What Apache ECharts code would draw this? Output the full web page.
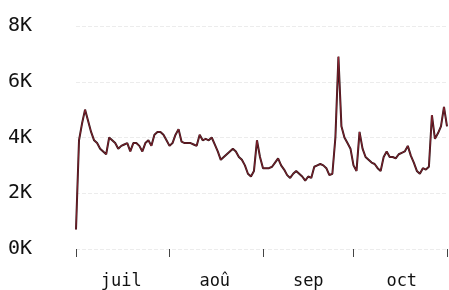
<!DOCTYPE html>
<html>
<head>
<meta charset="utf-8">
<script src="https://cdn.jsdelivr.net/npm/echarts@6/dist/echarts.min.js"></script>
<style>
html,body{margin:0;padding:0;background:#fff;}
#chart{width:449px;height:290px;}
</style>
</head>
<body>
<div id="chart"></div>
<script>
/* valeurs journalieres, du 1er juillet au 1er novembre (en milliers) */
var monthNames = ['juil', 'aoû', 'sep', 'oct'];
var monthStarts = [0, 31, 62, 92, 123];
var monthLabelIdx = [15, 46, 77, 108];
var yTicks = [0, 2000, 4000, 6000, 8000];

var julValues = [0.7, 3.9, 4.5, 5.0, 4.6, 4.2, 3.9, 3.8, 3.6, 3.5, 3.4, 4.0, 3.9, 3.8, 3.6, 3.7,
	3.75, 3.8, 3.5, 3.8, 3.8, 3.7, 3.5, 3.8, 3.9, 3.7, 4.1, 4.2, 4.2, 4.1, 3.9];
var aouValues = [3.7, 3.8, 4.1, 4.3, 3.85, 3.8, 3.8, 3.8, 3.75, 3.7, 4.1, 3.9, 3.95, 3.9, 4.0, 3.75,
	3.5, 3.2, 3.3, 3.4, 3.5, 3.6, 3.5, 3.3, 3.2, 3.0, 2.7, 2.6, 2.8, 3.9, 3.3];
var sepValues = [2.9, 2.9, 2.9, 2.95, 3.1, 3.25, 3.0, 2.85, 2.65, 2.55, 2.7, 2.8, 2.7, 2.6, 2.45,
	2.6, 2.55, 2.95, 3.0, 3.05, 3.0, 2.9, 2.65, 2.7, 4.0, 6.9, 4.4, 4.0, 3.8, 3.6];
var octValues = [3.0, 2.8, 4.2, 3.6, 3.3, 3.2, 3.1, 3.05, 2.9, 2.8, 3.3, 3.5, 3.3, 3.3, 3.25, 3.4,
	3.45, 3.5, 3.7, 3.35, 3.1, 2.8, 2.7, 2.9, 2.85, 2.95, 4.8, 3.95, 4.15, 4.4, 5.1];
var novValues = [4.4];

function buildDays(){
	var days = [];
	var start = new Date(2000, 6, 1);
	var n = julValues.length + aouValues.length + sepValues.length + octValues.length + novValues.length;
	for (var i = 0; i < n; i++) {
		var d = new Date(start.getTime());
		d.setDate(start.getDate() + i);
		days.push((d.getMonth() + 1) + '/' + d.getDate());
	}
	return days;
}

function buildValues(){
	var all = julValues.concat(aouValues, sepValues, octValues, novValues);
	return all.map(function(v){ return Math.round(v * 1000); });
}

function loadChart(){
	var chart = echarts.init(document.getElementById('chart'));
	var days = buildDays();
	var values = buildValues();

	var option = {
		animation : false,
		grid : {
			left : 76,
			right : 2,
			top : 26,
			bottom : 40
		},
		xAxis : {
			type : 'category',
			data : days,
			boundaryGap : false,
			offset : 6,
			axisLine : { show : false },
			axisTick : {
				show : true,
				length : 8,
				lineStyle : { color : '#444', width : 1 },
				interval : function(idx){ return monthStarts.indexOf(idx) >= 0; }
			},
			axisLabel : {
				margin : 18,
				fontFamily : 'DejaVu Sans Mono',
				fontSize : 17,
				color : '#111',
				interval : function(idx){ return monthLabelIdx.indexOf(idx) >= 0; },
				formatter : function(v, idx){
					var k = monthLabelIdx.indexOf(idx);
					return k >= 0 ? monthNames[k] : '';
				}
			},
			splitLine : { show : false }
		},
		yAxis : {
			type : 'value',
			min : yTicks[0],
			max : yTicks[yTicks.length - 1],
			interval : 2000,
			axisLine : { show : false },
			axisTick : { show : false },
			axisLabel : {
				align : 'left',
				margin : 68,
				fontFamily : 'DejaVu Sans Mono',
				fontSize : 20,
				color : '#111',
				formatter : function(v){ return (v / 1000) + 'K'; }
			},
			splitLine : {
				show : true,
				lineStyle : { color : '#ececec', type : 'dashed', width : 1 }
			}
		},
		series : [ {
			type : 'line',
			data : values,
			showSymbol : false,
			lineStyle : { color : '#2e1518', width : 2 },
			z : 2
		}, {
			type : 'line',
			data : values,
			showSymbol : false,
			lineStyle : { color : '#c0283c', width : 0.8, opacity : 0.7 },
			z : 3
		} ]
	};
	chart.setOption(option);
}

loadChart();
</script>
</body>
</html>
